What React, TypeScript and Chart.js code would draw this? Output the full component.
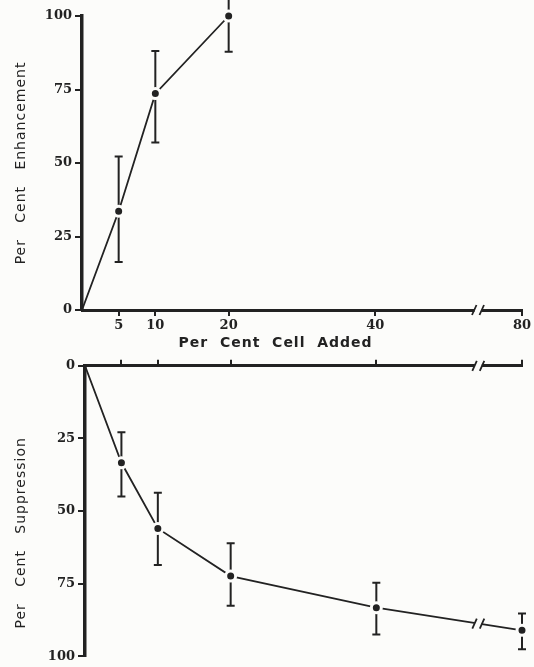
import React, { useEffect, useRef } from 'react';
import { Chart, registerables } from 'chart.js';

Chart.register(...registerables);

// ---- data ----
const xTickValues = [5, 10, 20, 40, 80];
const yTickValues = [0, 25, 50, 75, 100];

const enhancementX = [0, 5, 10, 20];
const enhancementY = [0, 33.6, 73.6, 100];
const enhancementLow = [null, 16.3, 57, 87.8];
const enhancementHigh = [null, 52.2, 88.1, 112.4];

const suppressionX = [0, 5, 10, 20, 40, 80];
const suppressionY = [0, 33.4, 56, 72.4, 83.3, 91.1];
const suppressionLow = [null, 22.9, 43.7, 61.1, 74.7, 85.3];
const suppressionHigh = [null, 45, 68.6, 82.6, 92.5, 97.6];

// axis break: values above BREAK_FROM are shifted left by BREAK_SHIFT
const BREAK_FROM = 50;
const BREAK_SHIFT = 20;
const BREAK_MARK = 54;
const axisPos = (x: number) => (x > BREAK_FROM ? x - BREAK_SHIFT : x);

const INK = '#222222';
const PAPER = '#fcfcfa';
const SANS = '"DejaVu Sans", sans-serif';
const SERIF = '"DejaVu Serif", serif';

const tickFont = { family: SERIF, size: 13, weight: 'bold' as const };

function xLabel(v: number) {
  const idx = xTickValues.findIndex((t) => axisPos(t) === v);
  return idx >= 0 ? String(xTickValues[idx]) : '';
}

function drawBreak(ctx: CanvasRenderingContext2D, x: number, y: number) {
  ctx.save();
  ctx.fillStyle = PAPER;
  ctx.fillRect(x - 3.5, y - 4, 7, 8);
  ctx.strokeStyle = INK;
  ctx.lineWidth = 1.8;
  ctx.beginPath();
  ctx.moveTo(x - 6, y + 5);
  ctx.lineTo(x - 1.5, y - 5);
  ctx.moveTo(x + 1.5, y + 5);
  ctx.lineTo(x + 6, y - 5);
  ctx.stroke();
  ctx.restore();
}

const spacingPlugin = {
  id: 'titleSpacing',
  beforeDraw(chart: any) {
    chart.ctx.letterSpacing = '1px';
  },
  beforeDatasetsDraw(chart: any) {
    chart.ctx.letterSpacing = '0px';
  },
};

function errorBarPlugin(low: (number | null)[], high: (number | null)[]) {
  return {
    id: 'errorBars',
    beforeDatasetsDraw(chart: any) {
      const ctx = chart.ctx as CanvasRenderingContext2D;
      const meta = chart.getDatasetMeta(0);
      const ys = chart.scales.y;
      ctx.save();
      ctx.strokeStyle = INK;
      ctx.lineWidth = 2;
      meta.data.forEach((pt: any, i: number) => {
        const lo = low[i];
        const hi = high[i];
        if (lo == null || hi == null) return;
        const x = pt.x;
        const y1 = ys.getPixelForValue(lo);
        const y2 = ys.getPixelForValue(hi);
        ctx.beginPath();
        ctx.moveTo(x, y1);
        ctx.lineTo(x, y2);
        ctx.moveTo(x - 4, y1);
        ctx.lineTo(x + 4, y1);
        ctx.moveTo(x - 4, y2);
        ctx.lineTo(x + 4, y2);
        ctx.stroke();
      });
      ctx.restore();
    },
  };
}

function breakPlugin(axisAtTop: boolean, breakLine: boolean) {
  return {
    id: 'axisBreak',
    afterDatasetsDraw(chart: any) {
      const ctx = chart.ctx as CanvasRenderingContext2D;
      const xs = chart.scales.x;
      const bx = xs.getPixelForValue(BREAK_MARK);
      const ay = axisAtTop ? chart.chartArea.top : chart.chartArea.bottom;
      drawBreak(ctx, bx, ay);
      if (breakLine) {
        const meta = chart.getDatasetMeta(0);
        const pts = meta.data;
        for (let i = 1; i < pts.length; i++) {
          const a = pts[i - 1];
          const b = pts[i];
          if (a.x <= bx && b.x >= bx) {
            const t = (bx - a.x) / (b.x - a.x);
            drawBreak(ctx, bx, a.y + t * (b.y - a.y));
          }
        }
      }
    },
  };
}

function lineDataset(xs: number[], ys: number[]) {
  return {
    data: xs.map((x, i) => ({ x: axisPos(x), y: ys[i] })),
    borderColor: INK,
    borderWidth: 1.8,
    backgroundColor: INK,
    pointRadius: xs.map((x) => (x === 0 ? 0 : 5)),
    pointBackgroundColor: INK,
    pointBorderColor: PAPER,
    pointBorderWidth: 3,
    tension: 0,
    fill: false,
    clip: false as any,
  };
}

function yAxis(title: string, reverse: boolean, width: number) {
  return {
    type: 'linear' as const,
    min: 0,
    max: 100,
    reverse,
    afterBuildTicks: (s: any) => {
      s.ticks = yTickValues.map((v) => ({ value: v }));
    },
    afterFit: (s: any) => {
      s.width = width;
    },
    ticks: { font: tickFont, color: INK, padding: 3, z: 1 },
    grid: { drawOnChartArea: false, drawTicks: true, tickLength: 7, color: INK, lineWidth: 2 },
    border: { display: true, color: INK, width: 3.5 },
    title: {
      display: true,
      text: title,
      font: { family: SANS, size: 14 },
      color: INK,
      padding: { top: 13, bottom: 0 },
    },
  };
}

export default function App() {
  const topRef = useRef<HTMLCanvasElement>(null);
  const botRef = useRef<HTMLCanvasElement>(null);

  useEffect(() => {
    const top = new Chart(topRef.current as HTMLCanvasElement, {
      type: 'line',
      data: { datasets: [lineDataset(enhancementX, enhancementY) as any] },
      options: {
        responsive: false,
        animation: false,
        layout: { padding: { top: 16, right: 12, bottom: 0, left: 0 } },
        plugins: { legend: { display: false }, tooltip: { enabled: false } },
        scales: {
          x: {
            type: 'linear',
            min: 0,
            max: axisPos(80),
            position: 'bottom',
            afterBuildTicks: (s: any) => {
              s.ticks = xTickValues.map((v) => ({ value: axisPos(v) }));
            },
            afterFit: (s: any) => {
              s.height = 45;
            },
            ticks: {
              callback: (v: any) => xLabel(Number(v)),
              font: tickFont,
              color: INK,
              padding: 2,
              maxRotation: 0,
              autoSkip: false,
              z: 1,
            },
            grid: { drawOnChartArea: false, drawTicks: true, tickLength: 6, color: INK, lineWidth: 2 },
            border: { display: true, color: INK, width: 3 },
            title: {
              display: true,
              text: 'Per  Cent  Cell  Added         ',
              font: { family: SANS, size: 14, weight: 'bold' },
              color: INK,
              padding: { top: 0, bottom: 3 },
            },
          },
          y: yAxis('Per   Cent   Enhancement', false, 82) as any,
        },
      },
      plugins: [spacingPlugin, errorBarPlugin(enhancementLow, enhancementHigh), breakPlugin(false, false)],
    });

    const bot = new Chart(botRef.current as HTMLCanvasElement, {
      type: 'line',
      data: { datasets: [lineDataset(suppressionX, suppressionY) as any] },
      options: {
        responsive: false,
        animation: false,
        layout: { padding: { top: 0, right: 12, bottom: 9, left: 0 } },
        plugins: { legend: { display: false }, tooltip: { enabled: false } },
        scales: {
          x: {
            type: 'linear',
            min: 0,
            max: axisPos(80),
            position: 'top',
            afterBuildTicks: (s: any) => {
              s.ticks = xTickValues.map((v) => ({ value: axisPos(v) }));
            },
            afterFit: (s: any) => {
              s.height = 9;
            },
            ticks: { display: false },
            grid: { drawOnChartArea: false, drawTicks: true, tickLength: 6, color: INK, lineWidth: 2 },
            border: { display: true, color: INK, width: 3 },
          },
          y: yAxis('Per   Cent   Suppression        ', true, 85) as any,
        },
      },
      plugins: [spacingPlugin, errorBarPlugin(suppressionHigh, suppressionLow), breakPlugin(true, true)],
    });

    return () => {
      top.destroy();
      bot.destroy();
    };
  }, []);

  return (
    <div
      style={{
        position: 'absolute',
        left: 0,
        top: 0,
        width: 534,
        height: 667,
        background: PAPER,
        overflow: 'hidden',
      }}
    >
      <canvas
        ref={topRef}
        width={534}
        height={355}
        style={{ position: 'absolute', left: 0, top: 0, width: 534, height: 355 }}
      />
      <canvas
        ref={botRef}
        width={534}
        height={312}
        style={{ position: 'absolute', left: 0, top: 355, width: 534, height: 312 }}
      />
    </div>
  );
}
